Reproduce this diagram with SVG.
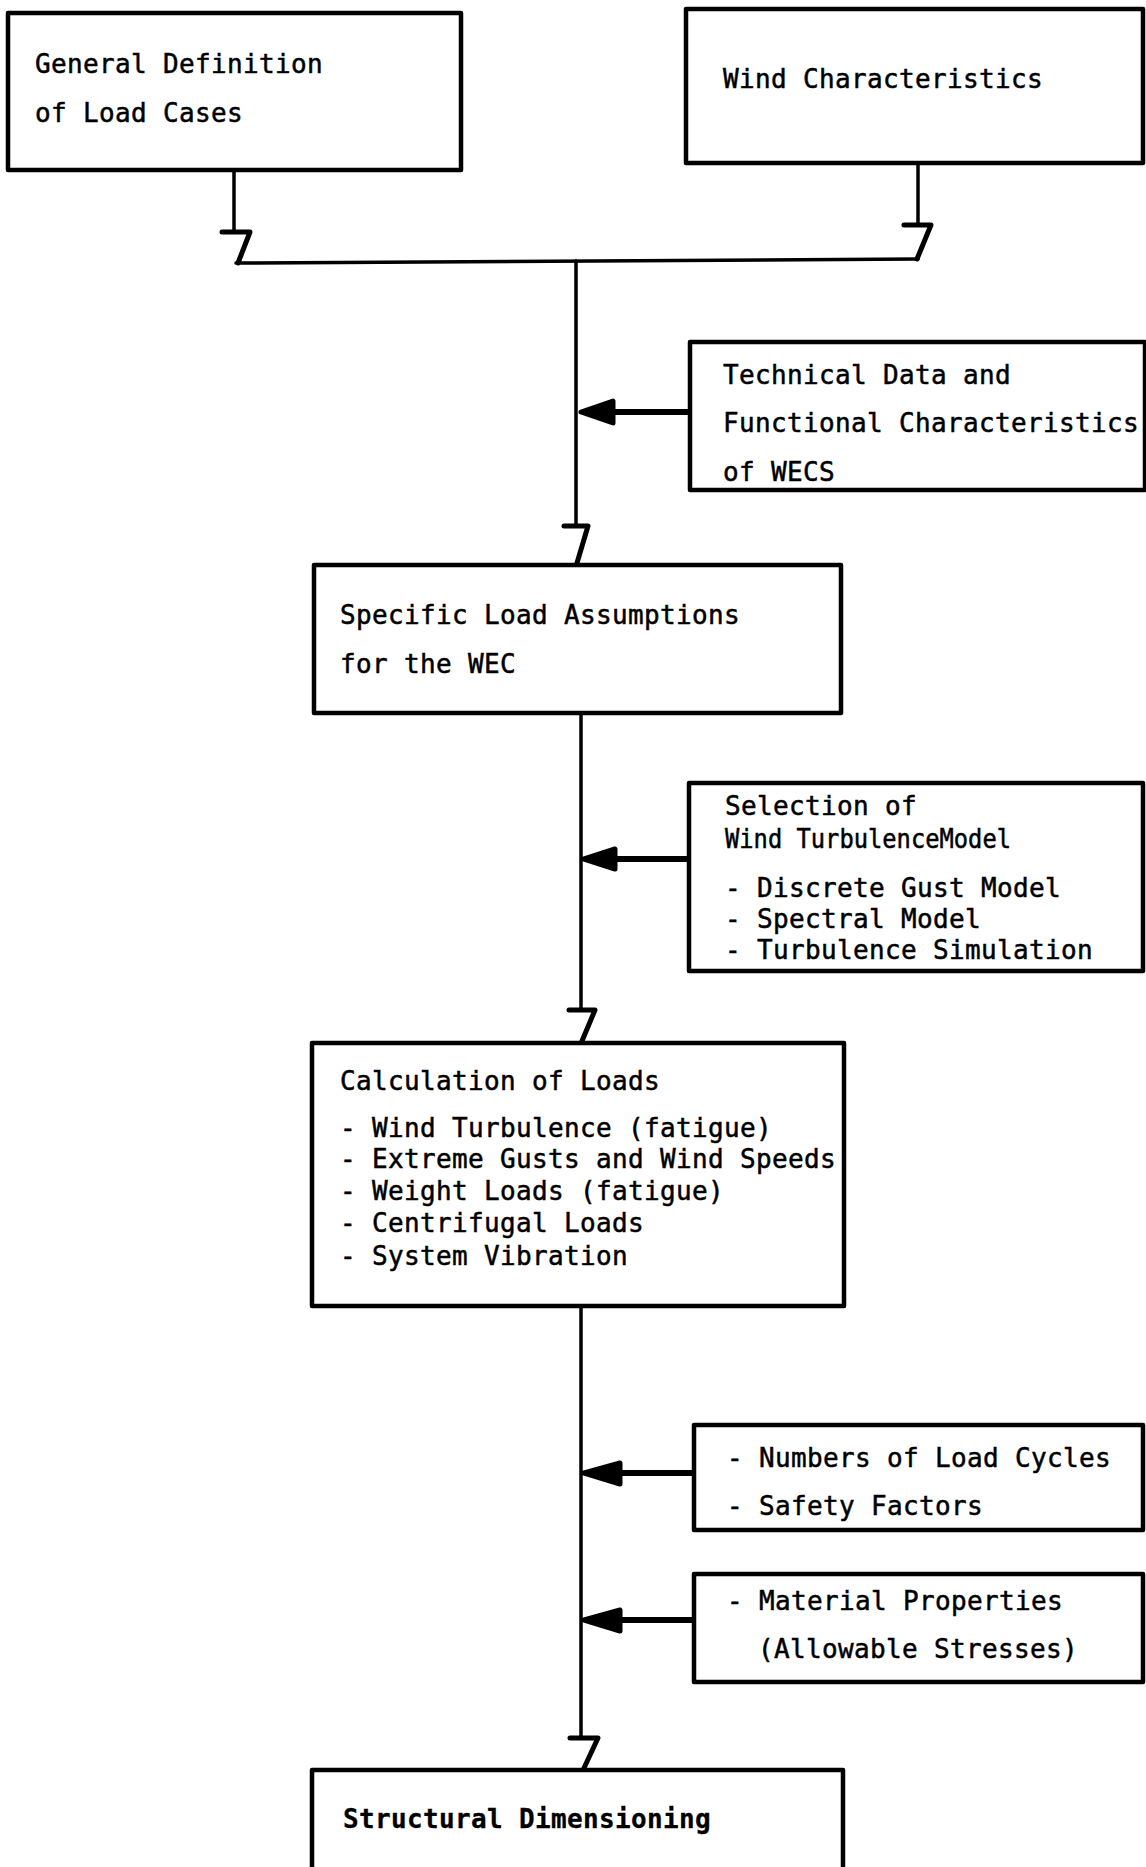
<svg xmlns="http://www.w3.org/2000/svg" width="1146" height="1867" viewBox="0 0 1146 1867">
<style>
.box{fill:#fff;stroke:#000;stroke-width:4.5;stroke-linejoin:round}
.t{font-family:"DejaVu Sans Mono","Liberation Mono",monospace;font-size:26px;letter-spacing:0.35px;fill:#000;stroke:#000;stroke-width:0.5px}
.b{font-weight:bold;stroke-width:0.3px}
.ln{fill:none;stroke:#000;stroke-width:3.5;stroke-linejoin:round;stroke-linecap:round}
.sh{fill:none;stroke:#000;stroke-width:6}
.hd{fill:none;stroke:#000;stroke-width:5;stroke-linejoin:round;stroke-linecap:round}
.ah{fill:#000;stroke:#000;stroke-width:5;stroke-linejoin:round}
</style>
<rect width="1146" height="1867" fill="#fff"/>
<g id="connectors">
  <path class="ln" d="M234 170 V232"/>
  <path class="hd" d="M222 232 H250 L238 263"/>
  <path class="ln" d="M918 163 V225"/>
  <path class="hd" d="M904 225 H931 L917 259"/>
  <path class="ln" d="M236 263 L918 259"/>
  <path class="ln" d="M576 261 V526"/>
  <path class="hd" d="M564 526 H588 L577 563"/>
  <path class="sh" d="M612 412 H690"/>
  <polygon class="ah" points="581,412 613,401 613,423"/>
  <path class="ln" d="M581 713 V1010"/>
  <path class="hd" d="M569 1010 H595 L582 1041"/>
  <path class="sh" d="M615 859 H689"/>
  <polygon class="ah" points="584,859 615,849 615,869"/>
  <path class="ln" d="M581 1306 V1738"/>
  <path class="hd" d="M570 1738 H598 L584 1768"/>
  <path class="sh" d="M620 1473 H694"/>
  <polygon class="ah" points="584,1473 620,1463 620,1484"/>
  <path class="sh" d="M620 1620 H694"/>
  <polygon class="ah" points="584,1620 620,1610 620,1631"/>
</g>
<g id="n-general">
  <rect class="box" x="8" y="13" width="453" height="157"/>
  <text class="t" x="35" y="73">General Definition</text>
  <text class="t" x="35" y="122">of Load Cases</text>
</g>
<g id="n-wind">
  <rect class="box" x="686" y="9" width="457" height="154"/>
  <text class="t" x="723" y="88">Wind Characteristics</text>
</g>
<g id="n-technical">
  <rect class="box" x="690" y="342" width="455" height="148"/>
  <text class="t" x="723" y="384">Technical Data and</text>
  <text class="t" x="723" y="432">Functional Characteristics</text>
  <text class="t" x="723" y="481">of WECS</text>
</g>
<g id="n-specific">
  <rect class="box" x="314" y="565" width="527" height="148"/>
  <text class="t" x="340" y="624">Specific Load Assumptions</text>
  <text class="t" x="340" y="673">for the WEC</text>
</g>
<g id="n-selection">
  <rect class="box" x="689" y="783" width="454" height="188"/>
  <text class="t" x="725" y="815">Selection of</text>
  <text class="t" x="725" y="848" textLength="286" lengthAdjust="spacingAndGlyphs" style="letter-spacing:0">Wind TurbulenceModel</text>
  <text class="t" x="725" y="897">- Discrete Gust Model</text>
  <text class="t" x="725" y="928">- Spectral Model</text>
  <text class="t" x="725" y="959">- Turbulence Simulation</text>
</g>
<g id="n-calculation">
  <rect class="box" x="312" y="1043" width="532" height="263"/>
  <text class="t" x="340" y="1090">Calculation of Loads</text>
  <text class="t" x="340" y="1137">- Wind Turbulence (fatigue)</text>
  <text class="t" x="340" y="1168">- Extreme Gusts and Wind Speeds</text>
  <text class="t" x="340" y="1200">- Weight Loads (fatigue)</text>
  <text class="t" x="340" y="1232">- Centrifugal Loads</text>
  <text class="t" x="340" y="1265">- System Vibration</text>
</g>
<g id="n-numbers">
  <rect class="box" x="694" y="1425" width="449" height="105"/>
  <text class="t" x="727" y="1467">- Numbers of Load Cycles</text>
  <text class="t" x="727" y="1515">- Safety Factors</text>
</g>
<g id="n-material">
  <rect class="box" x="694" y="1574" width="449" height="108"/>
  <text class="t" x="727" y="1610">- Material Properties</text>
  <text class="t" x="758" y="1658">(Allowable Stresses)</text>
</g>
<g id="n-structural">
  <path class="box" d="M312 1880 V1770 H843 V1880"/>
  <text class="t b" x="343" y="1828">Structural Dimensioning</text>
</g>
</svg>
